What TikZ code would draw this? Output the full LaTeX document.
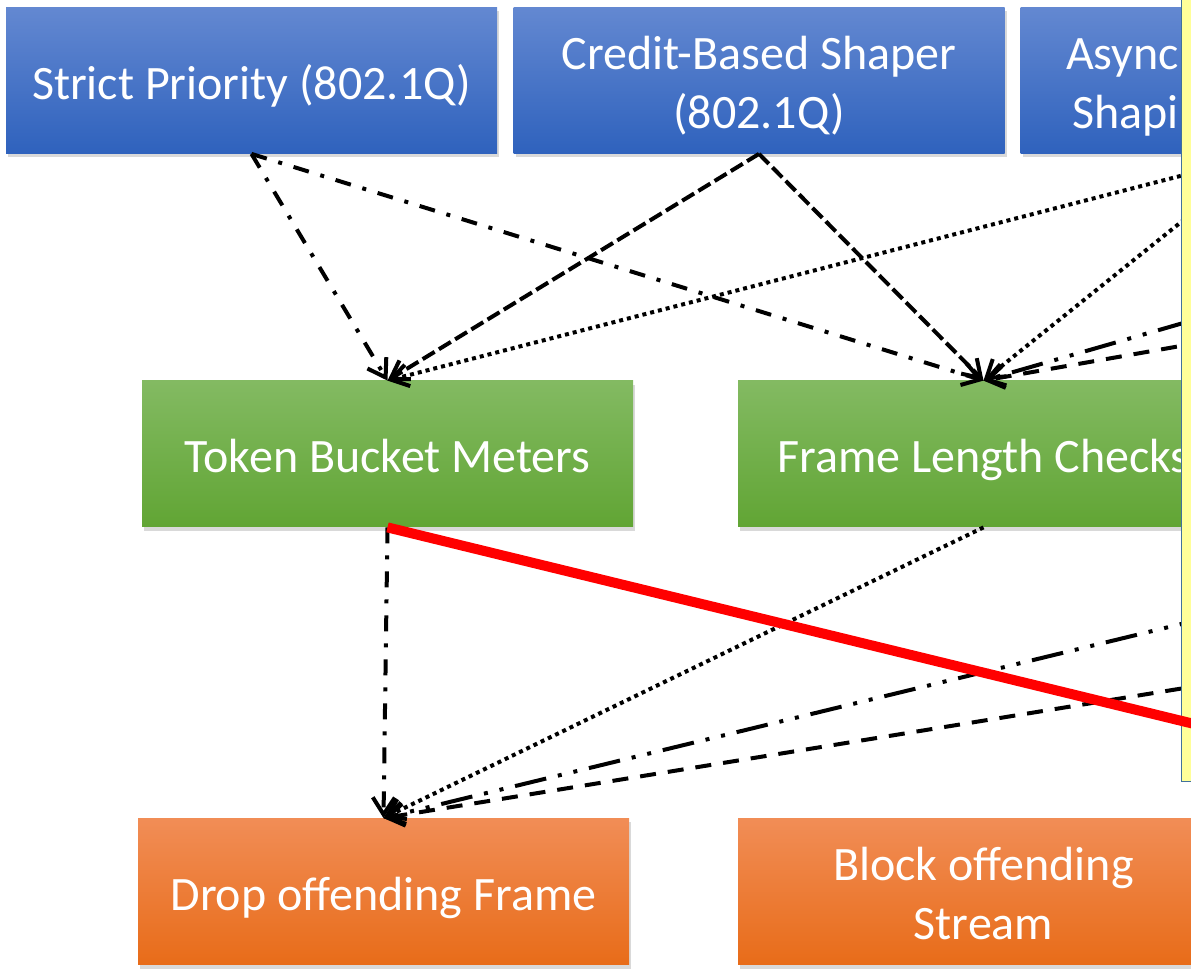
\documentclass[tikz,border=0pt]{standalone}
\usepackage{fontspec}
\setmainfont{Carlito}
\usetikzlibrary{arrows.meta,shadows}
\definecolor{shtop}{HTML}{6388D1}
\definecolor{shbot}{HTML}{2F62BD}
\definecolor{mttop}{HTML}{83BA62}
\definecolor{mtbot}{HTML}{61A534}
\definecolor{actop}{HTML}{F18D56}
\definecolor{acbot}{HTML}{E86C19}
\definecolor{notefill}{HTML}{FFFF99}
\definecolor{noteline}{HTML}{41719C}
\definecolor{cutred}{HTML}{FF0000}

\newcommand{\linestrut}{\rule[-5pt]{0pt}{28.8pt}}

\tikzset{
  boxtext/.style={text=white, align=center, font=\fontsize{24}{29.5}\selectfont,
    execute at begin node=\linestrut, execute at end node=\linestrut},
  twoline/.style={execute at begin node=\rule{0pt}{53pt}},
  stdbox/.style={boxtext, rectangle, minimum width=245.5pt, minimum height=73pt, inner sep=0pt,
    drop shadow={shadow xshift=1.2pt, shadow yshift=-2pt, opacity=0.3}},
  shaperbox/.style={stdbox, top color=shtop, bottom color=shbot},
  meterbox/.style={stdbox, top color=mttop, bottom color=mtbot},
  actbox/.style={stdbox, top color=actop, bottom color=acbot},
  flow/.style={line width=2pt, -{Straight Barb[length=8.5pt,width=11pt]}},
  dashdotline/.style={flow, dash pattern=on 8pt off 6pt on 2pt off 6pt},
  sysdashline/.style={flow, dash pattern=on 7pt off 2.5pt},
  dotline/.style={flow, dash pattern=on 2pt off 2pt},
  dashdotdotline/.style={flow, dash pattern=on 16pt off 6pt on 2pt off 6pt on 2pt off 6pt},
  longdashline/.style={flow, dash pattern=on 8pt off 6pt},
  notebox/.style={fill=notefill, draw=noteline, line width=0.75pt},
  redline/.style={draw=cutred, line width=5pt}
}

\begin{document}
\begin{tikzpicture}[x=0.5pt,y=-0.5pt]
  \useasboundingbox (0,0) rectangle (1191,973);
  \clip (0,0) rectangle (1191,973);
  % shapers
  \node[shaperbox] (sp) at (251.5,80.5) {Strict Priority (802.1Q)};
  \node[shaperbox,twoline] (cbs) at (759,80.5) {Credit-Based Shaper\\(802.1Q)};
  \node[shaperbox] (ats) at (1266,80.5) {};
  \node[boxtext,twoline,anchor=east,align=right] (atstext) at (1186,80.5) {Async\\Shapi};
  \coordinate (q4) at (1773,153);
  \coordinate (q5) at (2280,153);
  % meters and checks
  \node[meterbox] (tbm) at (387.5,454) {Token Bucket Meters};
  \node[meterbox] (flc) at (983.5,454) {Frame Length Checks};
  \coordinate (m3) at (1580,527);
  \coordinate (m4) at (2176,527);
  % actions
  \node[actbox] (drop) at (383.5,891.5) {Drop offending Frame};
  \node[actbox,twoline] (block) at (983.5,891.5) {Block offending\\Stream};
  \coordinate (b3) at (1580,818);
  % shaper -> meter / check
  \draw[dashdotline] (sp.south) -- (tbm.north);
  \draw[dashdotline] (sp.south) -- (flc.north);
  \draw[sysdashline] (cbs.south) -- (tbm.north);
  \draw[sysdashline] (cbs.south) -- (flc.north);
  \draw[dotline] (ats.south) -- (tbm.north);
  \draw[dotline] (ats.south) -- (flc.north);
  \draw[dashdotdotline] (q4) -- (flc.north);
  \draw[longdashline] (q5) -- (flc.north);
  % meter / check -> action
  \draw[dashdotline] (tbm.south) -- (drop.north);
  \draw[dotline] (flc.south) -- (drop.north);
  \draw[dashdotdotline] (m3) -- (drop.north);
  \draw[longdashline] (m4) -- (drop.north);
  % note over the right side
  \draw[notebox] (1181.5,-10) rectangle (1260,781.5);
  \draw[redline] (tbm.south) -- (b3);
\end{tikzpicture}
\end{document}
